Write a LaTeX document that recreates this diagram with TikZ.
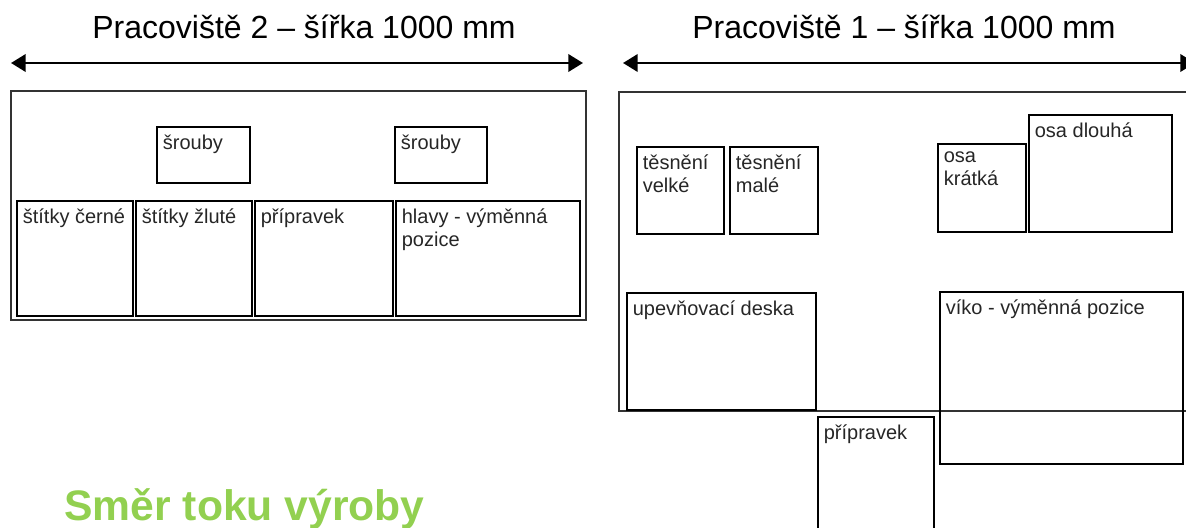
\documentclass[tikz,border=0pt]{standalone}
\usepackage{fontspec}
\setmainfont{Liberation Sans}
\usepackage{xcolor}
\usepackage{tikz}
\usetikzlibrary{arrows.meta}
\definecolor{flowgreen}{HTML}{92D050}
\definecolor{edgegray}{HTML}{333333}
\newcommand{\drawBox}[4]{% name, top left, bottom right, label
  \draw[box] (#2) rectangle (#3);
  \node[boxlabel] (#1) at (#2) {#4};
}

\begin{document}
\begin{tikzpicture}[x=0.75pt,y=-0.75pt,>={Triangle[length=11pt,width=13pt]},
  box/.style={draw=black,line width=1pt},
  boxlabel/.style={anchor=north west,inner xsep=4.2pt,inner ysep=5.8pt,align=left,
    text=black!85,font=\fontsize{15}{17}\selectfont},
  area/.style={draw=edgegray,line width=1.1pt},
  dimarrow/.style={<->,line width=1.9pt},
  heading/.style={anchor=base,inner sep=0pt,font=\fontsize{24}{29}\selectfont}]
% picture frame (reference is cut off on the right and at the bottom)
\useasboundingbox (0,0) rectangle (1186,528);
\clip (0,0) rectangle (1186,528);

% headings and width arrows
\node[heading] (titleB) at (304,39) {Pracoviště 2 – šířka 1000 mm};
\node[heading] (titleA) at (904,39) {Pracoviště 1 – šířka 1000 mm};
\coordinate (wBleft) at (11,63);
\coordinate (wBright) at (583,63);
\coordinate (wAleft) at (623,63);
\coordinate (wAright) at (1195,63);
\draw[dimarrow] (wBleft) -- (wBright);
\draw[dimarrow] (wAleft) -- (wAright);

% workstation 2
\draw[area] (11,91) rectangle (586,320);
\drawBox{sroubyA}{157,127}{250,183}{šrouby}
\drawBox{sroubyB}{395,127}{487,183}{šrouby}
\drawBox{stitkyC}{17,201}{133,316}{štítky černé}
\drawBox{stitkyZ}{136,201}{252,316}{štítky žluté}
\drawBox{pripravekB}{255,201}{393,316}{přípravek}
\drawBox{hlavy}{396,201}{580,316}{hlavy - výměnná\\pozice}

% workstation 1
\draw[area] (619,92) rectangle (1200,411);
\drawBox{tesVelke}{637,147}{724,234}{těsnění\\velké}
\drawBox{tesMale}{730,147}{818,234}{těsnění\\malé}
\drawBox{osaKratka}{938,144}{1026,232}{osa\\krátká}
\drawBox{osaDlouha}{1029,115}{1172,232}{osa dlouhá}
\drawBox{deska}{627,293}{816,410}{upevňovací deska}
\drawBox{viko}{940,292}{1183,464}{víko - výměnná pozice}
\drawBox{pripravekA}{818,417}{934,545}{přípravek}

% flow direction caption
\node[anchor=base west,inner sep=0pt,text=flowgreen,
  font=\bfseries\fontsize{32}{38}\selectfont] (flow) at (64,520) {Směr toku výroby};
\end{tikzpicture}
\end{document}
